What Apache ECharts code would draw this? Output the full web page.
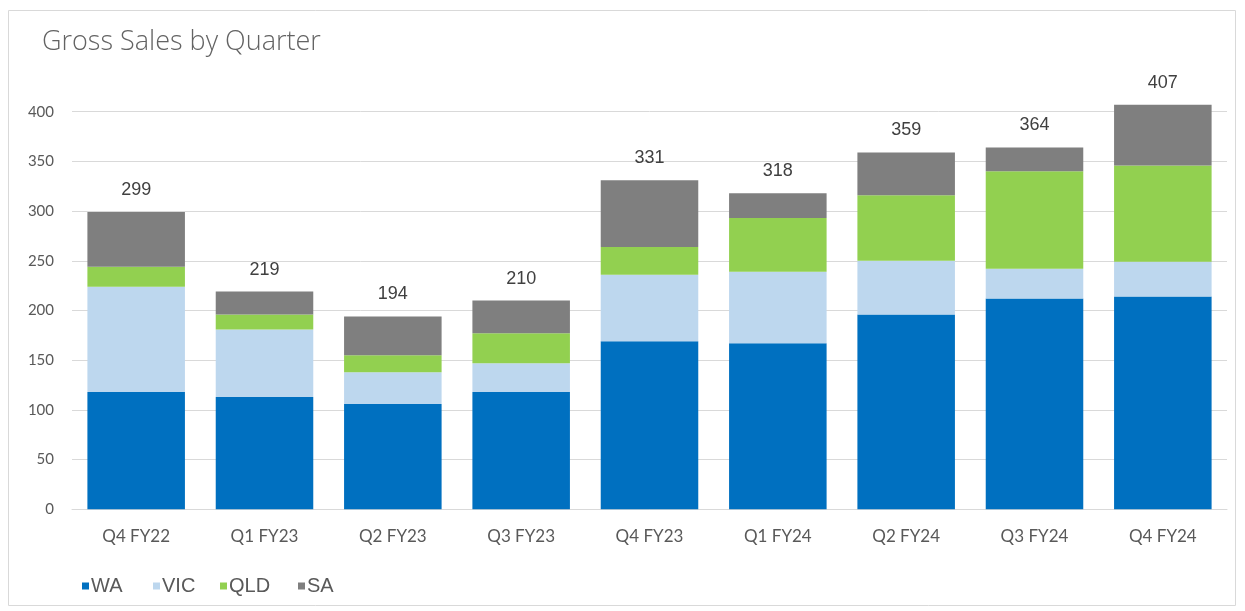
<!DOCTYPE html>
<html>
<head>
<meta charset="utf-8">
<script src="https://cdn.jsdelivr.net/npm/echarts@6/dist/echarts.min.js"></script>
<style>
html,body{margin:0;padding:0;background:#fff;}
#main{width:1245px;height:611px;}
</style>
</head>
<body>
<div id="main"></div>
<script>
//数据
var quarters = ['Q4 FY22','Q1 FY23','Q2 FY23','Q3 FY23','Q4 FY23','Q1 FY24','Q2 FY24','Q3 FY24','Q4 FY24'];
var wa  = [118, 113, 106, 118, 169, 167, 196, 212, 214];
var vic = [106, 68, 32, 29, 67, 72, 54, 30, 35];
var qld = [20, 15, 17, 30, 28, 54, 66, 98, 97];
var sa  = [55, 23, 39, 33, 67, 25, 43, 24, 61];
var yTicks = [0, 50, 100, 150, 200, 250, 300, 350, 400];
var regions = ['WA', 'VIC', 'QLD', 'SA'];

var totals = quarters.map(function(q, i){ return wa[i] + vic[i] + qld[i] + sa[i]; });

var myChart = echarts.init(document.querySelector('#main'));

function bar(name, data, color){
	return {
		name: name,
		type: 'bar',
		stack: 'total',
		data: data,
		barCategoryGap: '24%',
		clip: false,
		itemStyle: {color: color},
		emphasis: {disabled: true}
	};
}

//最上面一层带合计
var saBar = bar('SA', sa, '#7f7f7f');
saBar.label = {
	show: true,
	position: 'top',
	distance: 13,
	fontFamily: 'Liberation Sans',
	fontSize: 18,
	color: '#404040',
	formatter: function(p){ return totals[p.dataIndex]; }
};

//图例 每个单独放
var legendX = [77, 148, 215, 293];
var legends = regions.map(function(r, i){
	return {
		left: legendX[i],
		top: 571,
		itemWidth: 7,
		itemHeight: 7,
		itemGap: 0,
		icon: 'rect',
		textStyle: {fontFamily: 'Liberation Sans', fontSize: 20, color: '#595959', padding: [0, 0, 0, -3]},
		data: [r]
	};
});

var option = {
	animation: false,
	title: {
		text: 'Gross Sales by Quarter',
		left: 37,
		top: 24,
		textStyle: {fontFamily: 'Open Sans', fontWeight: 300, fontSize: 27, color: '#636363'}
	},
	graphic: [{
		type: 'rect',
		shape: {x: 8.5, y: 10.5, width: 1227, height: 595},
		style: {fill: 'none', stroke: '#d9d9d9', lineWidth: 1},
		silent: true
	}],
	legend: legends,
	grid: {left: 72, right: 18, top: 111.7, bottom: 101.7},
	xAxis: {
		type: 'category',
		data: quarters,
		axisLine: {lineStyle: {color: '#d9d9d9'}},
		axisTick: {show: false},
		axisLabel: {fontFamily: 'Lato', fontSize: 17, color: '#595959', margin: 19}
	},
	yAxis: {
		type: 'value',
		min: yTicks[0],
		max: yTicks[yTicks.length - 1],
		interval: 50,
		axisLine: {show: false},
		axisTick: {show: false},
		splitLine: {lineStyle: {color: '#d9d9d9'}},
		axisLabel: {fontFamily: 'Lato', fontSize: 15, color: '#595959', margin: 18}
	},
	series: [
		bar('WA', wa, '#0070c0'),
		bar('VIC', vic, '#bdd7ee'),
		bar('QLD', qld, '#92d050'),
		saBar
	]
};

myChart.setOption(option);
</script>
</body>
</html>
